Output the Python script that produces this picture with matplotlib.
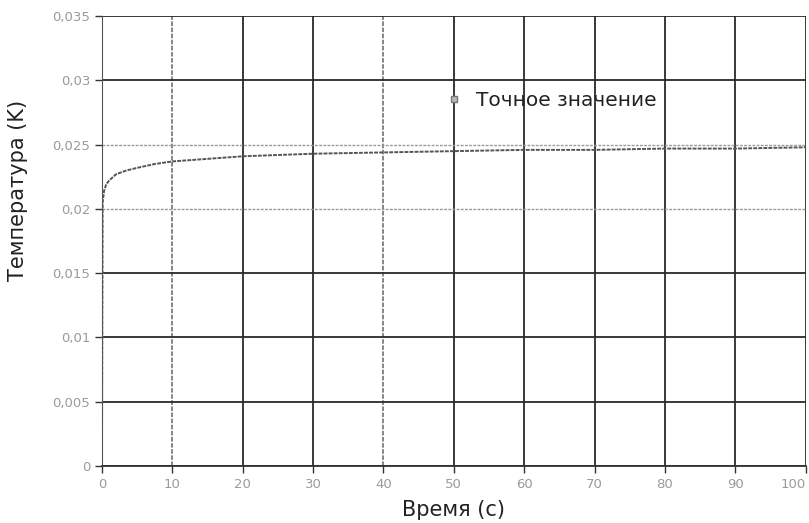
import matplotlib
matplotlib.use("Agg")
import matplotlib.pyplot as plt
from matplotlib.lines import Line2D
from matplotlib.ticker import FuncFormatter

# Data
time_s = [0.0, 0.1, 0.3, 0.6, 1.0, 2.0, 3.5, 5.0, 7.5, 10, 15, 20, 30, 40, 50, 60, 70, 80, 90, 100]
temp_k = [0.0, 0.0205, 0.0214, 0.0219, 0.0222, 0.0227, 0.0230, 0.0232, 0.0235, 0.0237,
          0.0239, 0.0241, 0.0243, 0.0244, 0.0245, 0.0246, 0.0246, 0.0247, 0.0247, 0.0248]
x_ticks = [0, 10, 20, 30, 40, 50, 60, 70, 80, 90, 100]
y_ticks = [0, 0.005, 0.01, 0.015, 0.02, 0.025, 0.03, 0.035]
legend_label = "Точное значение"
x_label = "Время (с)"
y_label = "Температура (K)"

plt.rcParams['font.family'] = ['DejaVu Sans']

fig = plt.figure(figsize=(8.09, 5.23), dpi=100)
ax = fig.add_axes([0.126, 0.109, 0.870, 0.860])

ax.set_xlim(0, 100)
ax.set_ylim(0, 0.035)
ax.set_xticks(x_ticks)
ax.set_yticks(y_ticks)

def fmt(v, pos):
    if v == 0:
        return "0"
    s = ("%.3f" % v).rstrip("0").rstrip(".")
    return s.replace(".", ",")

ax.yaxis.set_major_formatter(FuncFormatter(fmt))
ax.xaxis.set_major_formatter(FuncFormatter(lambda v, p: "%d" % v))

ax.grid(True, color="#2a2a2a", linewidth=1.3, linestyle="-")
for i, gl in enumerate(ax.get_ygridlines()):
    if y_ticks[i] in (0.02, 0.025):
        gl.set_color("#9a9a9a")
        gl.set_linestyle((0, (2, 1)))
        gl.set_linewidth(1.0)
for i, gl in enumerate(ax.get_xgridlines()):
    if x_ticks[i] in (10, 40):
        gl.set_color("#666666")
        gl.set_linestyle((0, (3, 1)))
        gl.set_linewidth(1.1)
ax.set_axisbelow(True)

for sp in ax.spines.values():
    sp.set_visible(False)
ax.spines['left'].set_visible(True)
ax.spines['left'].set_color("#555555")
ax.spines['bottom'].set_visible(True)
ax.spines['bottom'].set_color("#333333")
ax.spines['bottom'].set_linewidth(1.3)

ax.tick_params(axis="both", direction="out", length=5, width=1.0, color="#333333",
               labelsize=9.5, labelcolor="#9a9a9a")
xtl = ax.get_xticklabels()
xtl[-1].set_horizontalalignment("right")

ax.plot(time_s, temp_k, color="#555555", linewidth=1.4, linestyle=(0, (2, 0.6)))

handle = Line2D([], [], linestyle="none", marker="s", markersize=4,
                markerfacecolor="#bbbbbb", markeredgecolor="#777777")
ax.legend([handle], [legend_label], loc="center left", bbox_to_anchor=(0.463, 0.812),
          frameon=False, fontsize=14.5, handlelength=0.8, handletextpad=0.7,
          labelcolor="#222222")

ax.set_xlabel(x_label, fontsize=15, color="#222222")
ax.xaxis.set_label_coords(0.5, -0.098)
ax.xaxis.label.set_verticalalignment("center")
ax.set_ylabel(y_label, fontsize=15, color="#222222")
ax.yaxis.set_label_coords(-0.119, 0.613)
ax.yaxis.label.set_verticalalignment("center")

fig.savefig("out.png", dpi=100)
